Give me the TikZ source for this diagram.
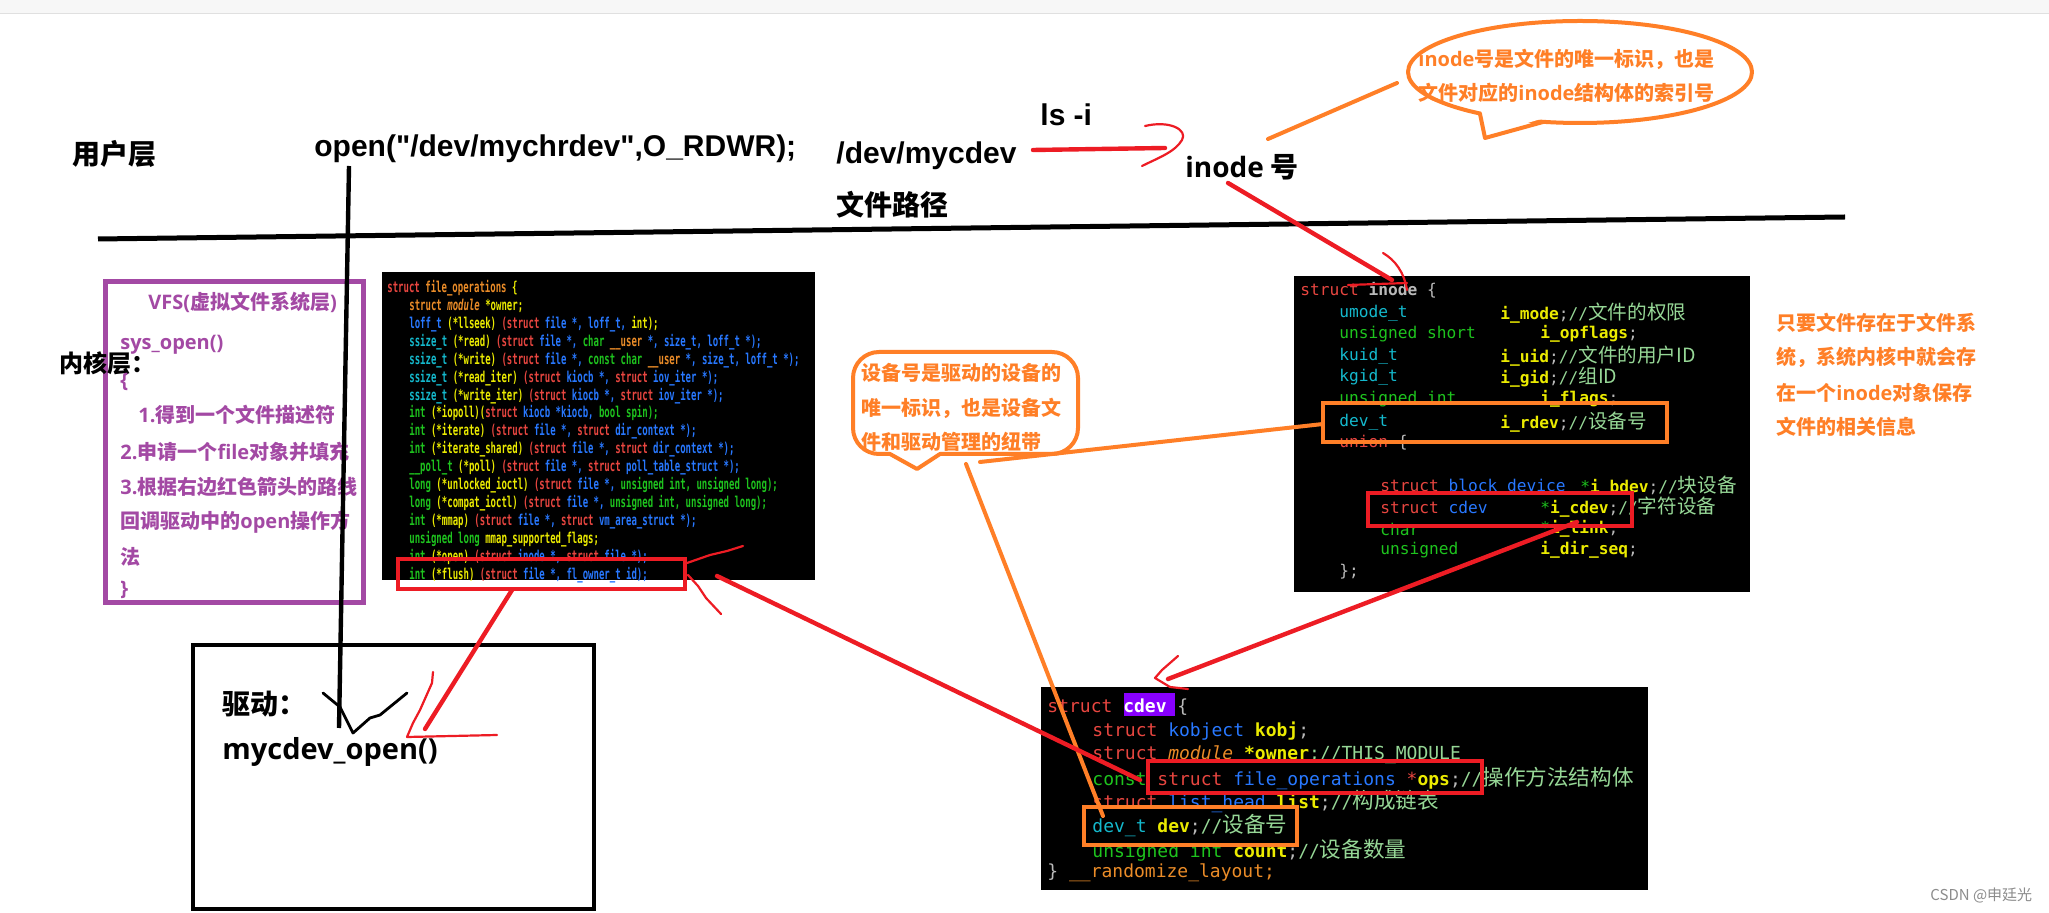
\documentclass[tikz,border=0pt]{standalone}
\usepackage{fontspec}
\setmainfont{Noto Sans CJK SC}
\newfontfamily\cjk{Noto Sans CJK SC}
\newfontfamily\mcjk{Noto Sans CJK SC}
\newfontfamily\lat{Open Sans}
\newfontfamily\ari{Liberation Sans}
\newfontfamily\mono{DejaVu Sans Mono}
\newfontfamily\fmono{DejaVu Sans Mono}[FakeStretch=0.6]
\definecolor{pred}{RGB}{237,28,36}
\definecolor{porange}{RGB}{255,127,39}
\definecolor{ppurple}{RGB}{163,73,164}
\definecolor{cR}{RGB}{232,70,64}
\definecolor{cB}{RGB}{40,120,255}
\definecolor{cG}{RGB}{30,195,30}
\definecolor{cY}{RGB}{235,235,0}
\definecolor{cC}{RGB}{20,185,205}
\definecolor{cO}{RGB}{235,140,40}
\definecolor{cM}{RGB}{150,215,150}
\definecolor{cP}{RGB}{185,185,185}
\definecolor{cdevbg}{RGB}{136,0,255}
\newcommand\kR[1]{\textcolor{cR}{#1}}
\newcommand\kB[1]{\textcolor{cB}{#1}}
\newcommand\kG[1]{\textcolor{cG}{#1}}
\newcommand\kY[1]{\textcolor{cY}{#1}}
\newcommand\kC[1]{\textcolor{cC}{#1}}
\newcommand\kO[1]{\textcolor{cO}{#1}}
\newcommand\kM[1]{\textcolor{cM}{#1}}
\newcommand\kP[1]{\textcolor{cP}{#1}}
\newcommand\zhi[1]{{\mcjk\fontsize{9.8}{10}\selectfont #1}}
\newcommand\zhc[1]{{\mcjk\fontsize{10.8}{11}\selectfont #1}}
\tikzset{
  fops/.style={anchor=west, inner sep=0, font=\fmono\bfseries\fontsize{7.5}{8}\selectfont},
  ic/.style={anchor=west, inner sep=0, font=\mono\fontsize{8.1}{9}\selectfont},
  cc/.style={anchor=west, inner sep=0, font=\mono\fontsize{9}{10}\selectfont},
  big/.style={anchor=west, inner sep=0, font=\cjk\bfseries\fontsize{14}{16}\selectfont},
  lab/.style={anchor=west, inner sep=0, font=\ari\bfseries\fontsize{15}{18}\selectfont},
  vfs/.style={anchor=west, inner sep=0, text=ppurple, font=\cjk\bfseries\fontsize{10}{12}\selectfont},
  otxt/.style={anchor=west, inner sep=0, text=porange, font=\cjk\bfseries\fontsize{10}{12}\selectfont},
  redthick/.style={draw=pred, line width=2.2pt, line cap=round},
  redthin/.style={draw=pred, line width=1.1pt, line cap=round, line join=round},
  orng/.style={draw=porange, line width=2pt, line cap=round, line join=round},
  redbox/.style={draw=pred, line width=2pt},
  orbox/.style={draw=porange, line width=2pt},
}
\begin{document}
\begin{tikzpicture}[x=0.5pt,y=-0.5pt]
\useasboundingbox (0,0) rectangle (2049,913);
\fill[white] (0,0) rectangle (2049,913);
\fill[black!3] (0,0) rectangle (2049,13);
\draw[black!12, line width=0.8pt] (0,13.5) -- (2049,13.5);

% ---------- code images ----------
\fill[black] (382,272) rectangle (815,580);
\fill[black] (1294,276) rectangle (1750,592);
\fill[black] (1041,687) rectangle (1648,890);

% file_operations
\node[fops] (f0) at (387,288) {\kR{struct} \kO{file\_operations} \kY{\{}};
\node[fops] (f1) at (409,306) {\kO{struct} \kO{\itshape module} \kY{*owner;}};
\node[fops] (f2) at (409,324) {\kB{loff\_t} \kY{(*llseek)} \kR{(struct} \kB{file *, loff\_t,} \kY{int);}};
\node[fops] (f3) at (409,342) {\kC{ssize\_t} \kY{(*read)} \kR{(struct} \kB{file *,} \kG{char} \kO{\_\_user} \kB{*, size\_t, loff\_t *);}};
\node[fops] (f4) at (409,360) {\kC{ssize\_t} \kY{(*write)} \kR{(struct} \kB{file *,} \kG{const char} \kO{\_\_user} \kB{*, size\_t, loff\_t *);}};
\node[fops] (f5) at (409,378) {\kC{ssize\_t} \kY{(*read\_iter)} \kR{(struct} \kB{kiocb *,} \kR{struct} \kB{iov\_iter *);}};
\node[fops] (f6) at (409,396) {\kC{ssize\_t} \kY{(*write\_iter)} \kR{(struct} \kB{kiocb *,} \kR{struct} \kB{iov\_iter *);}};
\node[fops] (f7) at (409,413) {\kG{int} \kY{(*iopoll)(}\kR{struct} \kB{kiocb *kiocb,} \kG{bool spin);}};
\node[fops] (f8) at (409,431) {\kG{int} \kY{(*iterate)} \kR{(struct} \kB{file *,} \kR{struct} \kB{dir\_context *);}};
\node[fops] (f9) at (409,449) {\kG{int} \kY{(*iterate\_shared)} \kR{(struct} \kB{file *,} \kR{struct} \kB{dir\_context *);}};
\node[fops] (f10) at (409,467) {\kG{\_\_poll\_t} \kY{(*poll)} \kR{(struct} \kB{file *,} \kR{struct} \kB{poll\_table\_struct *);}};
\node[fops] (f11) at (409,485) {\kG{long} \kY{(*unlocked\_ioctl)} \kR{(struct} \kB{file *,} \kG{unsigned int, unsigned long);}};
\node[fops] (f12) at (409,503) {\kG{long} \kY{(*compat\_ioctl)} \kR{(struct} \kB{file *,} \kG{unsigned int, unsigned long);}};
\node[fops] (f13) at (409,521) {\kG{int} \kY{(*mmap)} \kR{(struct} \kB{file *,} \kR{struct} \kB{vm\_area\_struct *);}};
\node[fops] (f14) at (409,539) {\kG{unsigned long} \kY{mmap\_supported\_flags;}};
\node[fops] (f15) at (409,557) {\kG{int} \kY{(*open)} \kR{(struct} \kB{inode *,} \kR{struct} \kB{file *);}};
\node[fops] (f16) at (409,575) {\kG{int} \kY{(*flush)} \kR{(struct} \kB{file *,} \kB{fl\_owner\_t id);}};
\draw[redbox] (398,559) rectangle (685,589);

% inode
\node[ic] (i0) at (1300,290) {\kR{struct} \kP{\bfseries inode} \kP{\{}};
\node[ic] (i1a) at (1339,313) {\kC{umode\_t}};
\node[ic] (i1b) at (1500,313) {\kY{\bfseries i\_mode}\kP{;}\kM{//\zhi{文件的权限}}};
\node[ic] (i2a) at (1339,334) {\kG{unsigned short}};
\node[ic] (i2b) at (1540,334) {\kY{\bfseries i\_opflags}\kP{;}};
\node[ic] (i3a) at (1339,356) {\kC{kuid\_t}};
\node[ic] (i3b) at (1500,356) {\kY{\bfseries i\_uid}\kP{;}\kM{//\zhi{文件的用户ID}}};
\node[ic] (i4a) at (1339,377) {\kC{kgid\_t}};
\node[ic] (i4b) at (1500,377) {\kY{\bfseries i\_gid}\kP{;}\kM{//\zhi{组ID}}};
\node[ic] (i5a) at (1339,399) {\kG{unsigned int}};
\node[ic] (i5b) at (1540,399) {\kY{\bfseries i\_flags}\kP{;}};
\node[ic] (i6a) at (1339,422) {\kC{dev\_t}};
\node[ic] (i6b) at (1500,422) {\kY{\bfseries i\_rdev}\kP{;}\kM{//\zhi{设备号}}};
\node[ic] (i7) at (1339,443) {\kR{union} \kP{\{}};
\node[ic] (i9a) at (1380,485) {\kR{struct} \kB{block device}};
\node[ic] (i9b) at (1580,485) {\kG{*}\kY{\bfseries i bdev}\kP{;}\kM{//\zhi{块设备}}};
\node[ic] (i10a) at (1380,507) {\kR{struct} \kB{cdev}};
\node[ic] (i10b) at (1540,507) {\kG{*}\kY{\bfseries i\_cdev}\kP{;}\kM{//\zhi{字符设备}}};
\node[ic] (i11a) at (1380,529) {\kG{char}};
\node[ic] (i11b) at (1540,529) {\kG{*}\kY{\bfseries i\_link}\kP{;}};
\node[ic] (i12a) at (1380,550) {\kG{unsigned}};
\node[ic] (i12b) at (1540,550) {\kY{\bfseries i\_dir\_seq}\kP{;}};
\node[ic] (i13) at (1339,572) {\kP{\};}};
\draw[orbox] (1323,403) rectangle (1667,442);
\draw[redbox] (1368,493) rectangle (1632,526);

% cdev
\fill[cdevbg] (1124,693) rectangle (1175,716);
\node[cc] (c0) at (1047,707) {\kR{struct} \textcolor{white}{\bfseries cdev} \kP{\{}};
\node[cc] (c1) at (1092,731) {\kR{struct} \kB{kobject} \kY{\bfseries kobj}\kP{;}};
\node[cc] (c2) at (1092,755) {\kR{struct} \kO{\itshape module} \kY{\bfseries *owner}\kM{;//THIS\_MODULE}};
\node[cc] (c3) at (1092,778) {\kG{const} \kR{struct} \kB{file\_operations} \kR{*}\kY{\bfseries ops}\kP{;}\kM{//\zhc{操作方法结构体}}};
\node[cc] (c4) at (1092,802) {\kR{struct} \kB{list\_head} \kY{\bfseries list}\kP{;}\kM{//\zhc{构成链表}}};
\node[cc] (c5) at (1092,826) {\kC{dev\_t} \kY{\bfseries dev}\kP{;}\kM{//\zhc{设备号}}};
\node[cc] (c6) at (1092,850) {\kG{unsigned int} \kY{\bfseries count}\kP{;}\kM{//\zhc{设备数量}}};
\node[cc] (c7) at (1047,873) {\kP{\}} \kO{\_\_randomize\_layout;}};
\draw[redbox] (1148,761) rectangle (1482,793);
\draw[orbox] (1084,807) rectangle (1297,845);

% ---------- boxes ----------
\draw[ppurple, line width=2.5pt] (105,282) rectangle (363,603);
\draw[black, line width=2pt] (193,645) rectangle (594,909);

% ---------- labels ----------
\node[big] (user) at (72,154) {用户层};
\node[anchor=west, inner sep=0, font=\cjk\bfseries\fontsize{12}{14}\selectfont] (kern) at (59,363) {内核层：};
\node[lab] (openc) at (314,149) {open("/dev/mychrdev",O\_RDWR);};
\node[lab] (lsi) at (1040,115) {ls -i};
\node[lab] (devp) at (836,156) {/dev/mycdev};
\node[big] (path) at (836,205) {文件路径};
\node[big] (inodeno) at (1185,167) {{\lat inode} 号};

\node[vfs] (v0) at (148,302) {{\lat VFS(}虚拟文件系统层{\lat )}};
\node[vfs] (v1) at (120,345) {\lat sys\_open()};
\node[vfs] (v2) at (120,382) {\lat \{};
\node[vfs] (v3) at (138,415) {{\lat 1.}得到一个文件描述符};
\node[vfs] (v4) at (120,452) {{\lat 2.}申请一个{\lat file}对象并填充};
\node[vfs] (v5) at (120,487) {{\lat 3.}根据右边红色箭头的路线};
\node[vfs] (v6) at (120,522) {回调驱动中的{\lat open}操作方};
\node[vfs] (v7) at (120,557) {法};
\node[vfs] (v8) at (120,590) {\lat \}};

\node[big] (drv) at (222,704) {驱动：};
\node[anchor=west, inner sep=0, font=\lat\bfseries\fontsize{14.5}{17}\selectfont] (mop) at (222,752) {mycdev\_open()};

% inode callout
\draw[orng] (1580,72) ellipse [x radius=172, y radius=51];
\fill[white] (1481,110) -- (1486,135) -- (1541,119) -- cycle;
\coordinate (tailA) at (1480,114);
\coordinate (tailT) at (1485,138);
\coordinate (tailB) at (1543,122);
\draw[orng] (tailA) -- (tailT) -- (tailB);
\node[otxt] (cb1) at (1418,59) {{\lat inode}号是文件的唯一标识，也是};
\node[otxt] (cb2) at (1418,93) {文件对应的{\lat inode}结构体的索引号};

% device number callout
\draw[orng] (940,454) [rounded corners=13pt] -- (1078,454) -- (1078,352) -- (853,352) -- (853,454) [sharp corners] -- (890,454) -- (917,469) -- cycle;
\node[otxt] (db1) at (861,373) {设备号是驱动的设备的};
\node[otxt] (db2) at (861,408) {唯一标识，也是设备文};
\node[otxt] (db3) at (861,442) {件和驱动管理的纽带};

% right text
\node[otxt] (r1) at (1776,323) {只要文件存在于文件系};
\node[otxt] (r2) at (1776,357) {统，系统内核中就会存};
\node[otxt] (r3) at (1776,393) {在一个{\lat inode}对象保存};
\node[otxt] (r4) at (1776,427) {文件的相关信息};

\node[anchor=west, inner sep=0, text=black!45, font=\cjk\fontsize{7.5}{9}\selectfont] (wm) at (1930,895) {CSDN @申廷光};

% ---------- connectors ----------
\coordinate (sepL) at (98,239);
\coordinate (sepR) at (1845,217);
\draw[line width=2.5pt] (sepL) -- (sepR);

\coordinate (vTop) at (349,166);
\coordinate (vBot) at (339,728);
\draw[line width=2.2pt] (vTop) -- (vBot);
\draw[line width=1.4pt, line cap=round, line join=round] (323,693) -- (340,707) -- (353,733) -- (370,718) -- (380,715) -- (407,693);

% driver <- flush
\coordinate (drvEnd) at (425,729);
\coordinate (flushBot) at (512,590);
\draw[redthick] (drvEnd) -- (flushBot);
\draw[redthin] (433,672) -- (432,683) -- (420,710) -- (413,723) -- (407,737) -- (497,735);

% /dev/mycdev -> inode number
\coordinate (dA) at (1033,150);
\coordinate (dB) at (1165,148);
\draw[redthick] (dA) -- (dB);
\draw[redthin] (1145,126) .. controls (1170,120) and (1188,130) .. (1182,140) .. controls (1175,152) and (1158,158) .. (1142,166);

% inode number -> struct inode
\coordinate (nA) at (1228,183);
\coordinate (nB) at (1392,280);
\draw[redthick] (nA) -- (nB);
\draw[redthin] (1383,253) .. controls (1395,260) and (1404,272) .. (1407,290);
\draw[redthin] (1348,285) -- (1407,283);

% inode number -> callout
\coordinate (oA) at (1268,139);
\coordinate (oB) at (1397,83);
\draw[orng] (oA) -- (oB);

% callout -> dev_t box (inode)
\coordinate (pA) at (980,462);
\coordinate (pB) at (1323,424);
\draw[orng] (pA) -- (pB);

% callout -> dev_t (cdev)
\coordinate (qA) at (966,464);
\coordinate (qB) at (1103,816);
\draw[orng] (qA) -- (qB);

% cdev ops -> flush
\coordinate (sA) at (1140,780);
\coordinate (sB) at (717,576);
\draw[redthick] (sA) -- (sB);
\draw[redthin] (687,563) -- (710,555) -- (727,551) -- (743,546);
\draw[redthin] (688,575) -- (698,586) -- (706,598) -- (721,614);

% i_cdev -> cdev
\coordinate (tA) at (1577,522);
\coordinate (tB) at (1168,679);
\draw[redthick] (tA) -- (tB);
\draw[redthin] (1178,656) -- (1162,670) -- (1155,678) -- (1170,687) -- (1188,689);
\end{tikzpicture}
\end{document}
